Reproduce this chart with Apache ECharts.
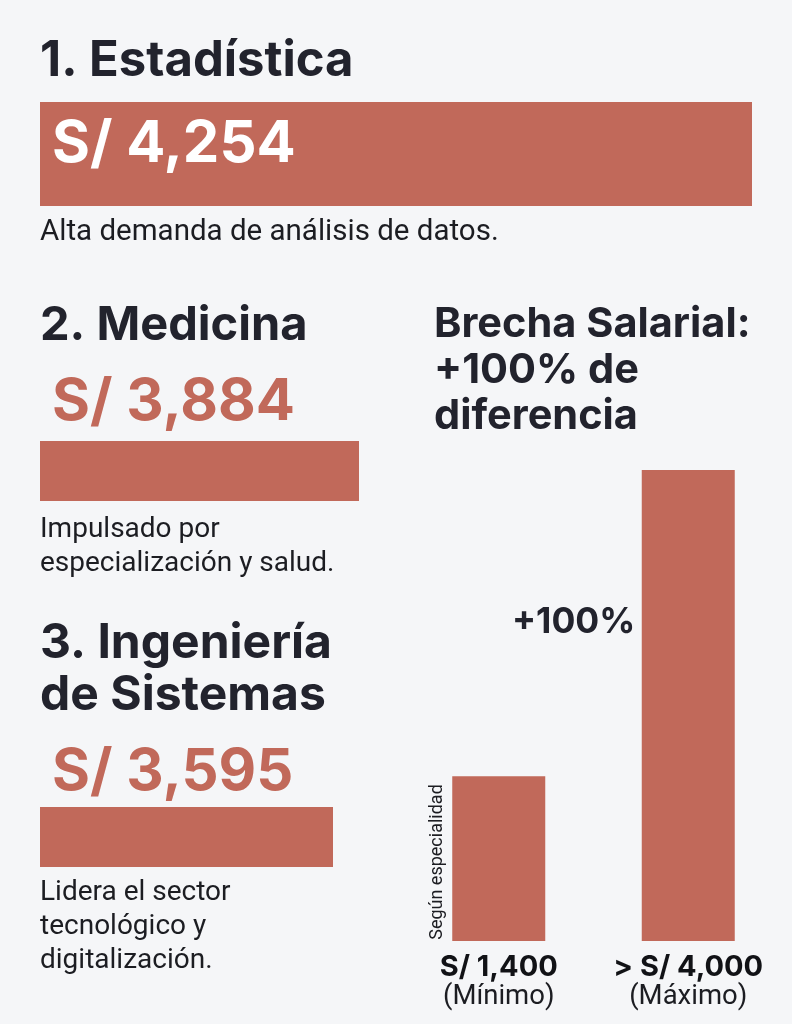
<!DOCTYPE html>
<html>
<head>
<meta charset="utf-8">
<script src="https://cdn.jsdelivr.net/npm/echarts@6/dist/echarts.min.js"></script>
<style>
html,body{margin:0;padding:0;background:#f5f6f8;}
#chart{width:792px;height:1024px;}
</style>
</head>
<body>
<div id="chart"></div>
<script>
// ---- Data ----
const careers = ['1. Estadística', '2. Medicina', '3. Ingeniería\nde Sistemas'];
const salaries = [4254, 3884, 3595];
const salaryLabels = ['S/ 4,254', 'S/ 3,884', 'S/ 3,595'];
const descriptions = [
  'Alta demanda de análisis de datos.',
  'Impulsado por\nespecialización y salud.',
  'Lidera el sector\ntecnológico y\ndigitalización.'
];
const gapTitle = 'Brecha Salarial:\n+100% de\ndiferencia';
const gapCategories = ['Mínimo', 'Máximo'];
const gapValues = [1400, 4000];
const gapValueLabels = ['S/ 1,400', '> S/ 4,000'];
const gapNote = '+100%';
const gapAxisNote = 'Según especialidad';

// ---- Style / layout ----
const BAR = '#c1695a';
const DARK = '#22232d';
const TXT = '#1c1d22';
const hGrids = [
  {left: 40, top: 102, width: 712, height: 104},
  {left: 40, top: 441, width: 319, height: 60},
  {left: 40, top: 807, width: 293, height: 60}
];
const labelAbove = [null, -67, -63];

const grid = hGrids.map(g => Object.assign({}, g));
grid.push({left: 404, top: 470, width: 379, height: 471});

const xAxis = [], yAxis = [], series = [];
salaries.forEach((v, i) => {
  xAxis.push({gridIndex: i, type: 'value', min: 0, max: 'dataMax', show: false});
  yAxis.push({gridIndex: i, type: 'category', data: [careers[i]], show: false});
  const inside = i === 0;
  series.push({
    type: 'bar', xAxisIndex: i, yAxisIndex: i,
    data: [v], barWidth: '100%',
    itemStyle: {color: BAR},
    label: inside ? {
      show: true, position: 'insideLeft', distance: 12, offset: [0, -9],
      formatter: () => salaryLabels[i],
      color: '#ffffff', fontFamily: 'Inter', fontWeight: 'bold', fontSize: 58
    } : {
      show: true, position: [12, labelAbove[i]],
      formatter: () => salaryLabels[i],
      color: BAR, fontFamily: 'Inter', fontWeight: 'bold', fontSize: 58, lineHeight: 58
    }
  });
});

xAxis.push({
  gridIndex: 3, type: 'category', data: gapCategories,
  axisLine: {show: false}, axisTick: {show: false},
  axisLabel: {
    margin: 11, interval: 0,
    formatter: (val, idx) => '{a|' + gapValueLabels[idx] + '}\n{b|(' + val + ')}',
    rich: {
      a: {fontFamily: 'Inter', fontWeight: 'bold', fontSize: 29, lineHeight: 30, color: '#111216'},
      b: {fontFamily: 'Roboto', fontSize: 27.5, lineHeight: 30, color: '#1c1d22'}
    }
  }
});
yAxis.push({gridIndex: 3, type: 'value', min: 0, max: 'dataMax', show: false});
series.push({
  type: 'bar', xAxisIndex: 3, yAxisIndex: 3,
  data: gapValues, barWidth: 93, itemStyle: {color: BAR}
});

const graphic = [
  {type: 'text', left: 40, top: 37, style: {text: careers[0], font: 'bold 49px Inter', fill: DARK}},
  {type: 'text', left: 40, top: 302, style: {text: careers[1], font: 'bold 47px Inter', fill: DARK}},
  {type: 'text', left: 40, top: 618, style: {text: careers[2], font: 'bold 48px Inter', fill: DARK, lineHeight: 52}},
  {type: 'text', left: 40, top: 218, style: {text: descriptions[0], font: '29.5px Roboto', fill: TXT}},
  {type: 'text', left: 40, top: 513, style: {text: descriptions[1], font: '28px Roboto', fill: TXT, lineHeight: 34}},
  {type: 'text', left: 40, top: 876, style: {text: descriptions[2], font: '28px Roboto', fill: TXT, lineHeight: 34}},
  {type: 'text', left: 434, top: 302, style: {text: gapTitle, font: 'bold 41.5px Inter', fill: DARK, lineHeight: 46}},
  {type: 'text', left: 512, top: 604, style: {text: gapNote, font: 'bold 35.5px Inter', fill: DARK}},
  {type: 'text', x: 437, y: 862, rotation: Math.PI / 2,
   style: {text: gapAxisNote, font: '18px Roboto', fill: TXT, align: 'center', verticalAlign: 'middle'}}
];

const chart = echarts.init(document.getElementById('chart'));
chart.setOption({
  backgroundColor: '#f5f6f8',
  animation: false,
  grid, xAxis, yAxis, series, graphic
});
</script>
</body>
</html>
